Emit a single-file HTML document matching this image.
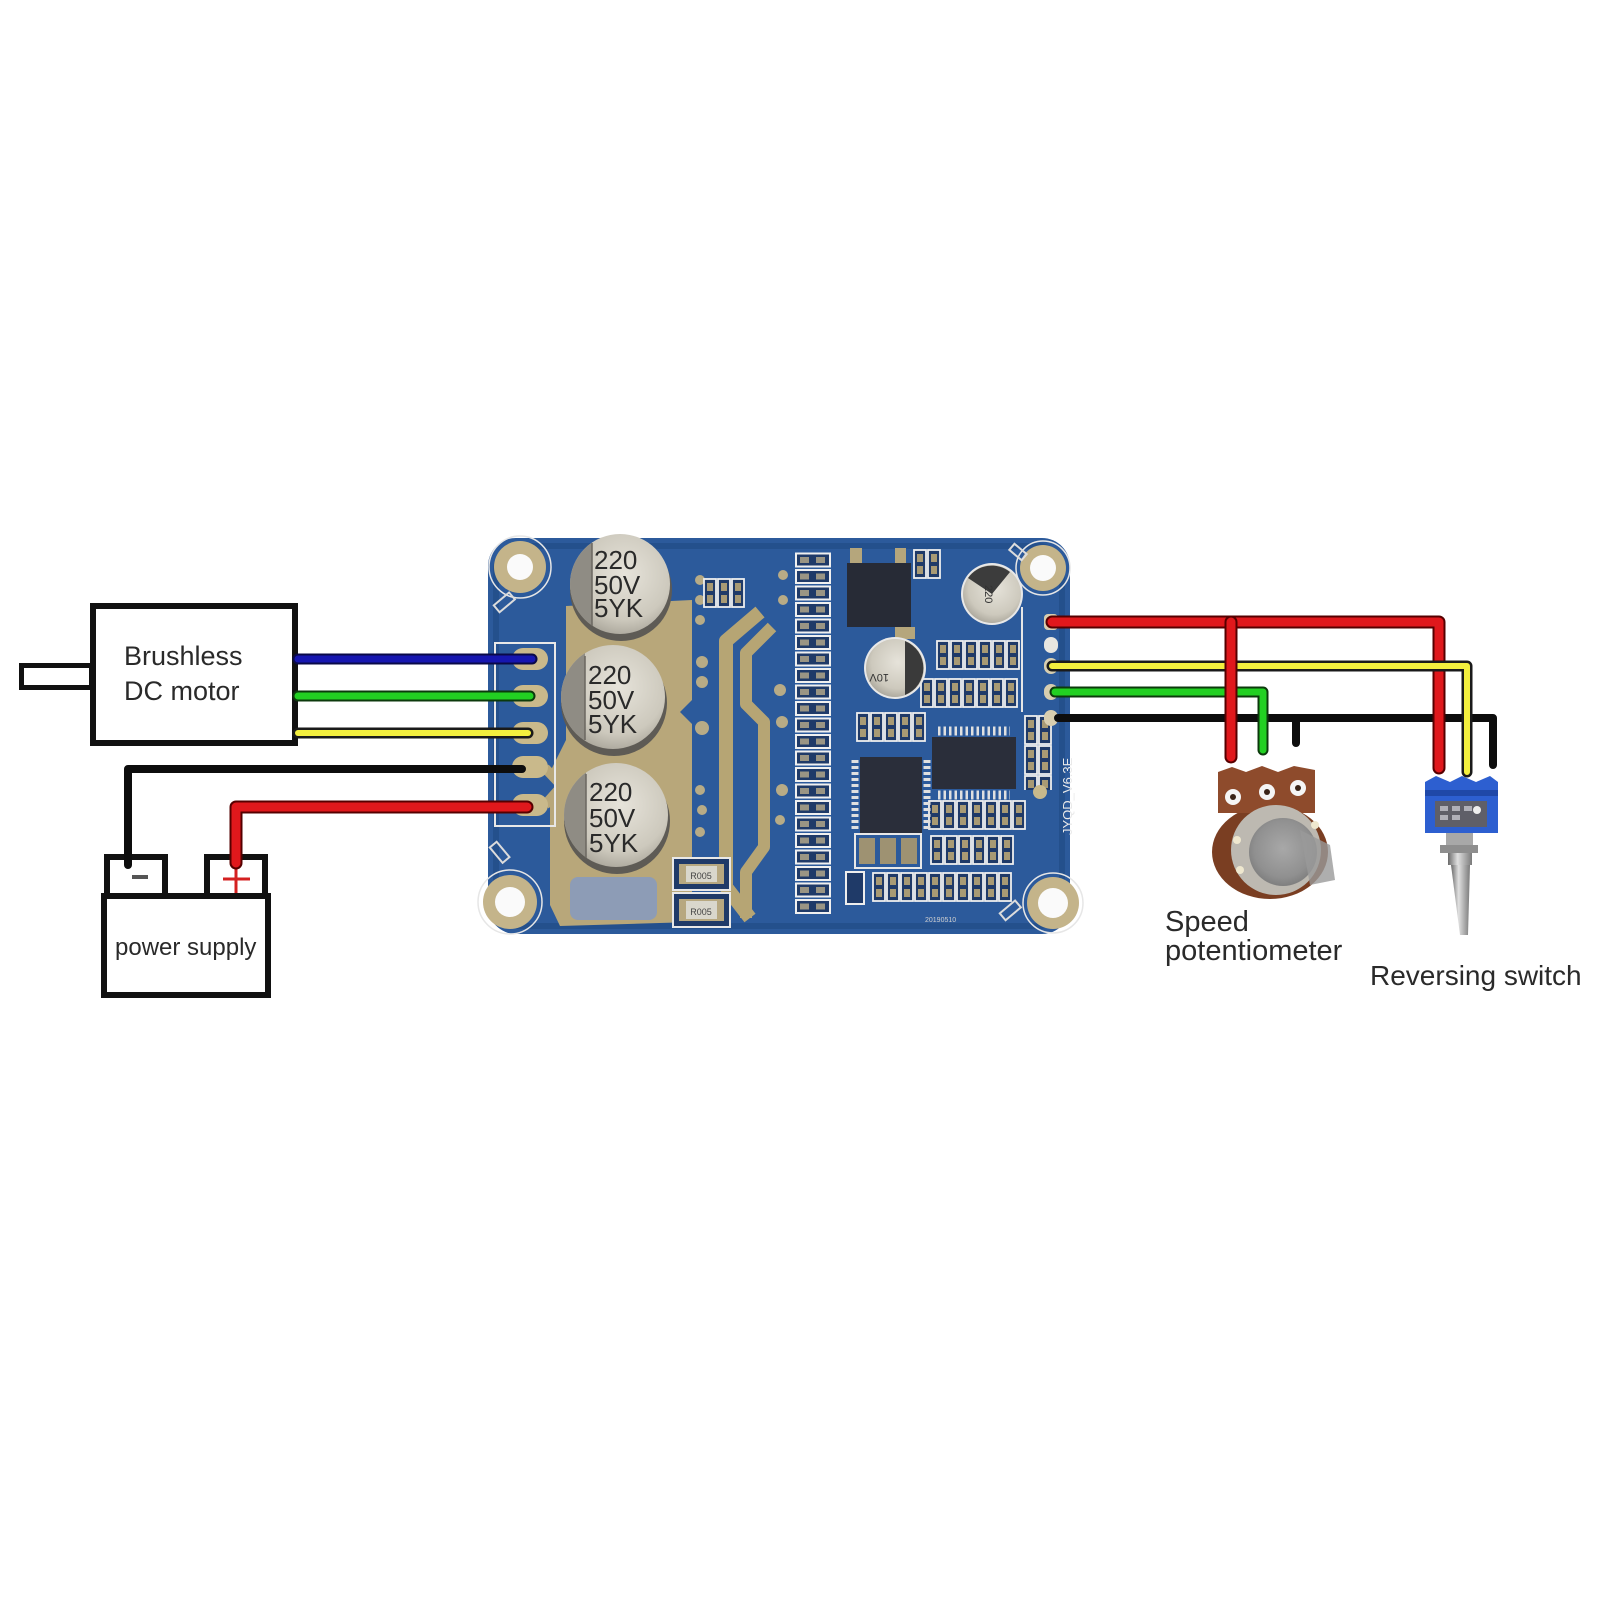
<!DOCTYPE html>
<html><head><meta charset="utf-8">
<style>
html,body{margin:0;padding:0;background:#fff;}
svg{display:block;}
text{font-family:"Liberation Sans",sans-serif;}
</style></head><body>
<svg width="1600" height="1600" viewBox="0 0 1600 1600" xmlns="http://www.w3.org/2000/svg">
<defs>
 <radialGradient id="capg" cx="0.55" cy="0.4" r="0.7">
  <stop offset="0" stop-color="#e6e3da"/><stop offset="0.65" stop-color="#cdc9bd"/><stop offset="1" stop-color="#9c988d"/>
 </radialGradient>
 <radialGradient id="knob" cx="0.5" cy="0.45" r="0.6">
  <stop offset="0" stop-color="#a8a8a8"/><stop offset="0.7" stop-color="#909090"/><stop offset="1" stop-color="#787878"/>
 </radialGradient>
 <linearGradient id="lever" x1="0" x2="1">
  <stop offset="0" stop-color="#6a6a6a"/><stop offset="0.4" stop-color="#e0e0e0"/><stop offset="1" stop-color="#7a7a7a"/>
 </linearGradient>
 <pattern id="smd" x="0" y="0" width="44" height="16.5" patternUnits="userSpaceOnUse">
  <rect x="1" y="1.5" width="34" height="13" fill="#1f3a68" stroke="#f0f0f0" stroke-width="2"/>
  <rect x="5" y="5" width="9" height="6" fill="#9a9584"/><rect x="21" y="5" width="9" height="6" fill="#9a9584"/>
 </pattern>
 <pattern id="row" x="0" y="0" width="14" height="30" patternUnits="userSpaceOnUse">
  <rect x="1" y="1" width="12" height="28" fill="#1f3a68" stroke="#eeeeee" stroke-width="1.8"/>
  <rect x="4" y="5" width="6" height="8" fill="#a89a74"/><rect x="4" y="17" width="6" height="8" fill="#a89a74"/>
 </pattern>
 <clipPath id="c1"><circle cx="620" cy="584" r="50"/></clipPath>
 <clipPath id="c2"><circle cx="613" cy="697" r="52"/></clipPath>
 <clipPath id="c3"><circle cx="616" cy="815" r="52"/></clipPath>
</defs>

<rect width="1600" height="1600" fill="#ffffff"/>

<!-- ===== Motor ===== -->
<rect x="21.5" y="665.5" width="70" height="22" fill="#fff" stroke="#111" stroke-width="5"/>
<rect x="93" y="606" width="202" height="137" fill="#fff" stroke="#111" stroke-width="6"/>
<text x="124" y="665" font-size="27" fill="#2a2a2a">Brushless</text>
<text x="124" y="700" font-size="27" fill="#2a2a2a">DC motor</text>

<!-- ===== Power supply ===== -->
<rect x="107" y="857" width="58" height="40" fill="#fff" stroke="#111" stroke-width="6"/>
<rect x="207" y="857" width="58" height="40" fill="#fff" stroke="#111" stroke-width="6"/>
<rect x="104" y="896" width="164" height="99" fill="#fff" stroke="#111" stroke-width="6"/>
<line x1="132" y1="877" x2="148" y2="877" stroke="#555" stroke-width="4"/>
<line x1="223" y1="879" x2="250" y2="879" stroke="#d42020" stroke-width="3"/>
<line x1="236" y1="866" x2="236" y2="893" stroke="#d42020" stroke-width="3"/>
<text x="115" y="955" font-size="24" fill="#2a2a2a">power supply</text>

<!-- ===== PCB ===== -->
<rect x="488" y="538" width="582" height="396" rx="28" fill="#2c5a9b"/>
<rect x="496" y="546" width="566" height="380" rx="24" fill="none" stroke="#24508c" stroke-width="6"/>

<!-- gold copper areas -->
<path d="M566,606 L692,600 L692,700 L680,712 L692,724 L692,922 L560,926 L550,905 L550,800 L564,786 L550,772 L560,752 L566,740 Z" fill="#b8a77a"/>
<path d="M545,768 L562,786 L545,805" fill="none" stroke="#b8a77a" stroke-width="10"/>
<polyline points="760,612 726,641 726,887 750,918" fill="none" stroke="#b6a574" stroke-width="14" stroke-linejoin="round"/>
<polyline points="772,627 746,653 746,704 764,722 764,847 746,872 746,918" fill="none" stroke="#b6a574" stroke-width="12" stroke-linejoin="round"/>
<rect x="570" y="877" width="87" height="43" rx="8" fill="#8d9cb6"/>

<!-- terminal outline + pads -->
<rect x="495" y="643" width="60" height="183" fill="none" stroke="#e8e8e8" stroke-width="2"/>
<g fill="#c9b98b">
 <rect x="512" y="648" width="36" height="22" rx="11"/>
 <rect x="512" y="685" width="36" height="22" rx="11"/>
 <rect x="512" y="722" width="36" height="22" rx="11"/>
 <rect x="512" y="756" width="36" height="22" rx="11"/>
 <rect x="512" y="794" width="36" height="22" rx="11"/>
</g>

<!-- mounting holes -->
<g>
 <circle cx="520" cy="567" r="31" fill="none" stroke="#e6e6e6" stroke-width="1.5"/>
 <circle cx="520" cy="567" r="26" fill="#c4b48a"/><circle cx="520" cy="567" r="13" fill="#fafafa"/>
 <circle cx="1043" cy="568" r="27" fill="none" stroke="#e6e6e6" stroke-width="1.5"/>
 <circle cx="1043" cy="568" r="23" fill="#c4b48a"/><circle cx="1043" cy="568" r="13" fill="#fafafa"/>
 <circle cx="510" cy="902" r="32" fill="none" stroke="#e6e6e6" stroke-width="1.5"/>
 <circle cx="510" cy="902" r="27" fill="#c4b48a"/><circle cx="510" cy="902" r="15" fill="#fafafa"/>
 <circle cx="1053" cy="903" r="30" fill="none" stroke="#e6e6e6" stroke-width="1.5"/>
 <circle cx="1053" cy="903" r="26" fill="#c4b48a"/><circle cx="1053" cy="903" r="15" fill="#fafafa"/>
</g>
<!-- silk markers near holes -->
<g fill="none" stroke="#dcdcdc" stroke-width="2">
 <rect x="494" y="598" width="20" height="9" transform="rotate(-40 504 602)"/>
 <rect x="490" y="848" width="20" height="9" transform="rotate(50 500 852)"/>
 <rect x="1000" y="906" width="20" height="9" transform="rotate(-40 1010 910)"/>
 <rect x="1010" y="548" width="16" height="8" transform="rotate(40 1018 552)"/>
</g>

<!-- big capacitors -->
<g>
 <circle cx="621" cy="590" r="51" fill="#5e5b55"/>
 <circle cx="620" cy="584" r="50" fill="url(#capg)"/>
 <rect x="560" y="520" width="32" height="130" fill="#8f8c84" clip-path="url(#c1)"/>
 <line x1="592" y1="543" x2="592" y2="626" stroke="#6a6760" stroke-width="1.5"/>
 <g font-size="26" fill="#2a2a2a"><text x="594" y="569">220</text><text x="594" y="594">50V</text><text x="594" y="617">5YK</text></g>

 <circle cx="614" cy="703" r="53" fill="#5e5b55"/>
 <circle cx="613" cy="697" r="52" fill="url(#capg)"/>
 <rect x="553" y="640" width="32" height="130" fill="#8f8c84" clip-path="url(#c2)"/>
 <line x1="585" y1="656" x2="585" y2="740" stroke="#6a6760" stroke-width="1.5"/>
 <g font-size="26" fill="#2a2a2a"><text x="588" y="684">220</text><text x="588" y="709">50V</text><text x="588" y="733">5YK</text></g>

 <circle cx="617" cy="821" r="53" fill="#5e5b55"/>
 <circle cx="616" cy="815" r="52" fill="url(#capg)"/>
 <rect x="556" y="760" width="30" height="130" fill="#8f8c84" clip-path="url(#c3)"/>
 <line x1="586" y1="774" x2="586" y2="858" stroke="#6a6760" stroke-width="1.5"/>
 <g font-size="26" fill="#2a2a2a"><text x="589" y="801">220</text><text x="589" y="827">50V</text><text x="589" y="852">5YK</text></g>
</g>

<!-- vias / dots -->
<g fill="#b8ab86">
 <circle cx="700" cy="580" r="5"/><circle cx="700" cy="600" r="5"/><circle cx="700" cy="620" r="5"/>
 <circle cx="702" cy="662" r="6"/><circle cx="702" cy="682" r="6"/><circle cx="702" cy="728" r="7"/>
 <circle cx="700" cy="790" r="5"/><circle cx="702" cy="810" r="5"/><circle cx="700" cy="832" r="5"/>
 <circle cx="780" cy="690" r="6"/><circle cx="782" cy="722" r="6"/><circle cx="782" cy="790" r="6"/><circle cx="780" cy="820" r="5"/>
 <circle cx="783" cy="575" r="5"/><circle cx="783" cy="600" r="5"/>
</g>

<!-- resistors R005 -->
<g>
 <rect x="673" y="858" width="57" height="32" fill="#1f3a68" stroke="#e8e8e8" stroke-width="2"/>
 <rect x="679" y="864" width="45" height="20" fill="#b7a880"/><rect x="686" y="866" width="31" height="16" fill="#d9d7cc"/>
 <text x="701" y="879" font-size="9" text-anchor="middle" fill="#444">R005</text>
 <rect x="673" y="893" width="57" height="34" fill="#1f3a68" stroke="#e8e8e8" stroke-width="2"/>
 <rect x="679" y="899" width="45" height="22" fill="#b7a880"/><rect x="686" y="901" width="31" height="18" fill="#d9d7cc"/>
 <text x="701" y="915" font-size="9" text-anchor="middle" fill="#444">R005</text>
</g>

<!-- SMD column -->
<g transform="translate(795,552)"><rect width="44" height="363" fill="url(#smd)"/></g>

<!-- small blocks -->
<g transform="translate(703,578)"><rect width="42" height="30" fill="url(#row)"/></g>
<g transform="translate(913,549)"><rect width="28" height="30" fill="url(#row)"/></g>
<g transform="translate(936,640)"><rect width="84" height="30" fill="url(#row)"/></g>
<g transform="translate(920,678)"><rect width="98" height="30" fill="url(#row)"/></g>
<g transform="translate(856,712)"><rect width="70" height="30" fill="url(#row)"/></g>
<g transform="translate(928,800)"><rect width="98" height="30" fill="url(#row)"/></g>
<g transform="translate(930,835)"><rect width="84" height="30" fill="url(#row)"/></g>
<g transform="translate(872,872)"><rect width="140" height="30" fill="url(#row)"/></g>
<g transform="translate(1024,715)"><rect width="28" height="75" fill="url(#row)"/></g>
<rect x="846" y="872" width="18" height="32" fill="#1f3a68" stroke="#eee" stroke-width="2"/>

<!-- black IC (regulator) -->
<rect x="850" y="548" width="12" height="20" fill="#b5a67c"/>
<rect x="895" y="548" width="11" height="20" fill="#b5a67c"/>
<rect x="847" y="563" width="64" height="64" fill="#272b36"/>
<rect x="895" y="627" width="20" height="12" fill="#b5a67c"/>

<!-- small caps -->
<circle cx="992" cy="594" r="31" fill="#e8e8e8"/>
<circle cx="992" cy="594" r="29" fill="url(#capg)"/>
<path d="M968,578 A29,29 0 0 1 1010,572 L992,594 Z" fill="#3c3c3c"/>
<text x="0" y="0" font-size="11" fill="#333" transform="translate(985,585) rotate(90)">220</text>
<circle cx="895" cy="668" r="31" fill="#e8e8e8"/>
<circle cx="895" cy="668" r="29" fill="url(#capg)"/>
<path d="M905,641 A29,29 0 0 1 905,695 Z" fill="#3a3a3a"/>
<text x="0" y="0" font-size="11" fill="#333" transform="translate(889,674) rotate(180)">10V</text>

<!-- TSSOP -->
<rect x="932" y="737" width="84" height="52" fill="#2a2e3a"/>
<line x1="938" y1="731" x2="1010" y2="731" stroke="#e0e0e0" stroke-width="9" stroke-dasharray="2.5 3"/>
<line x1="938" y1="795" x2="1010" y2="795" stroke="#e0e0e0" stroke-width="9" stroke-dasharray="2.5 3"/>

<!-- QFN -->
<rect x="860" y="757" width="62" height="76" fill="#2a2e3a"/>
<line x1="855" y1="760" x2="855" y2="830" stroke="#e0e0e0" stroke-width="7" stroke-dasharray="3 3"/>
<line x1="927" y1="760" x2="927" y2="830" stroke="#e0e0e0" stroke-width="7" stroke-dasharray="3 3"/>
<g fill="#9e9272"><rect x="859" y="838" width="16" height="26"/><rect x="880" y="838" width="16" height="26"/><rect x="901" y="838" width="16" height="26"/></g>
<rect x="855" y="834" width="66" height="34" fill="none" stroke="#e8e8e8" stroke-width="2"/>

<!-- right edge outline & header pads -->
<line x1="1022" y1="607" x2="1022" y2="712" stroke="#e6e6e6" stroke-width="2"/>
<g fill="#d8ceb0">
 <rect x="1044" y="614" width="14" height="16" rx="4"/>
 <rect x="1044" y="637" width="14" height="16" rx="7" fill="#e8e6e0"/>
 <rect x="1044" y="658" width="14" height="16" rx="7"/>
 <rect x="1044" y="684" width="14" height="16" rx="7"/>
 <rect x="1044" y="710" width="14" height="16" rx="7"/>
</g>
<circle cx="1040" cy="792" r="7" fill="#c8b98c"/>
<text x="0" y="0" font-size="13" fill="#eaeaea" transform="translate(1072,835) rotate(-90)">JYQD_V6.3E</text>
<text x="925" y="922" font-size="7" fill="#cfcfcf">20190510</text>

<!-- ===== Left wires ===== -->
<g fill="none" stroke-linecap="round" stroke-linejoin="round">
 <line x1="298" y1="659" x2="532" y2="659" stroke="#0a0a48" stroke-width="11"/>
 <line x1="298" y1="659" x2="532" y2="659" stroke="#1616b0" stroke-width="7"/>
 <line x1="298" y1="696" x2="530" y2="696" stroke="#0c3a0c" stroke-width="11"/>
 <line x1="298" y1="696" x2="530" y2="696" stroke="#22d022" stroke-width="7"/>
 <line x1="298" y1="733" x2="528" y2="733" stroke="#1a1a1a" stroke-width="11"/>
 <line x1="298" y1="733" x2="528" y2="733" stroke="#f3ef3e" stroke-width="6"/>
 <path d="M128,865 V769 H522" stroke="#0d0d0d" stroke-width="8"/>
 <path d="M236,863 V807 H527" stroke="#560000" stroke-width="13"/>
 <path d="M236,863 V807 H527" stroke="#e0181c" stroke-width="9"/>
</g>

<!-- ===== Right wires ===== -->
<g fill="none" stroke-linecap="round" stroke-linejoin="round">
 <path d="M1058,718 H1493 V765" stroke="#0d0d0d" stroke-width="8"/>
 <path d="M1296,718 V743" stroke="#0d0d0d" stroke-width="8"/>
 <path d="M1052,622 H1439 V768" stroke="#560000" stroke-width="13"/>
 <path d="M1052,622 H1439 V768" stroke="#e0181c" stroke-width="9"/>
 <path d="M1052,666 H1467 V772" stroke="#1a1a1a" stroke-width="11"/>
 <path d="M1052,666 H1467 V772" stroke="#f3ef3e" stroke-width="6"/>
 <path d="M1055,692 H1263 V750" stroke="#0c3a0c" stroke-width="11"/>
 <path d="M1055,692 H1263 V750" stroke="#22d022" stroke-width="7"/>
 <path d="M1231,622 V757" stroke="#560000" stroke-width="13"/>
 <path d="M1231,622 V757" stroke="#e0181c" stroke-width="9"/>
</g>

<!-- ===== Potentiometer ===== -->
<g>
 <ellipse cx="1270" cy="852" rx="58" ry="47" fill="#7a3e22"/>
 <path d="M1218,813 L1218,772 L1232,767 L1246,772 L1262,766 L1278,772 L1294,766 L1315,770 L1315,813 Z" fill="#8e4b2c"/>
 <g fill="#f5f5f5"><circle cx="1233" cy="797" r="8"/><circle cx="1267" cy="792" r="8"/><circle cx="1298" cy="788" r="8"/></g>
 <g fill="#3a2418"><circle cx="1233" cy="797" r="3"/><circle cx="1267" cy="792" r="3"/><circle cx="1298" cy="788" r="3"/></g>
 <circle cx="1276" cy="850" r="45" fill="#bdb9b1"/>
 <circle cx="1283" cy="852" r="34" fill="url(#knob)"/>
 <path d="M1300,830 L1330,845 L1335,880 L1310,885 Z" fill="#9a9a9a" opacity="0.8"/>
 <g fill="#efe8cf"><circle cx="1237" cy="840" r="4"/><circle cx="1240" cy="870" r="4"/><circle cx="1315" cy="825" r="4"/></g>
</g>

<!-- ===== Reversing switch ===== -->
<g>
 <path d="M1425,833 L1425,782 L1436,776 L1450,782 L1462,776 L1476,782 L1490,776 L1498,782 L1498,833 Z" fill="#2d5fd0"/>
 <rect x="1425" y="790" width="73" height="6" fill="#1f48a8"/>
 <rect x="1435" y="801" width="52" height="26" fill="#5f5f68"/>
 <g fill="#b0b0b8"><rect x="1440" y="806" width="8" height="5"/><rect x="1452" y="806" width="8" height="5"/><rect x="1464" y="806" width="8" height="5"/><rect x="1440" y="815" width="8" height="5"/><rect x="1452" y="815" width="8" height="5"/></g>
 <circle cx="1477" cy="810" r="4" fill="#eee"/>
 <rect x="1446" y="833" width="27" height="12" fill="#a8a8a8"/>
 <rect x="1440" y="845" width="38" height="8" fill="#8e8e8e"/>
 <rect x="1448" y="853" width="24" height="12" fill="url(#lever)"/>
 <path d="M1451,865 L1470,865 L1468,935 L1460,935 Z" fill="url(#lever)"/>
</g>

<!-- ===== Labels ===== -->
<text x="1165" y="931" font-size="29" fill="#2a2a2a">Speed</text>
<text x="1165" y="960" font-size="29" fill="#2a2a2a">potentiometer</text>
<text x="1370" y="985" font-size="28" fill="#2a2a2a">Reversing switch</text>
</svg>
</body></html>
